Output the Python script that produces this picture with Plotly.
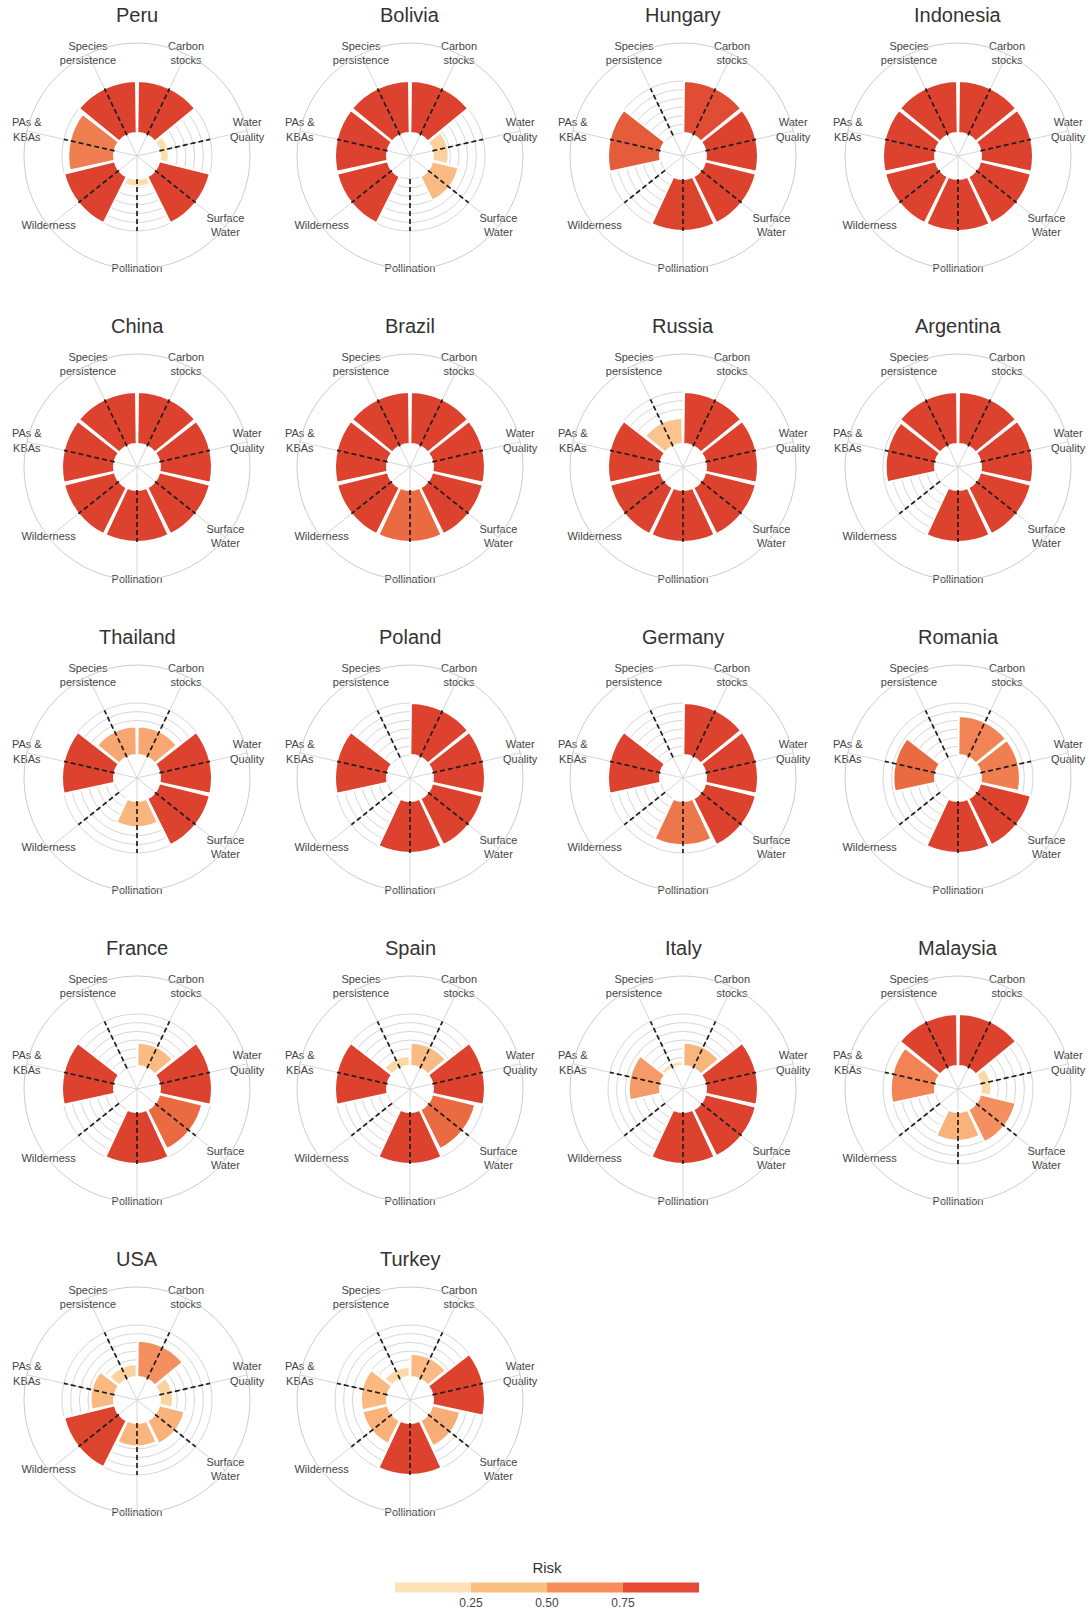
import plotly.graph_objects as go

CATEGORIES = ["Species persistence", "Carbon stocks", "Water Quality", "Surface Water",
              "Pollination", "Wilderness", "PAs & KBAs"]
LABELS = ["Species<br>persistence", "Carbon<br>stocks", "Water<br>Quality", "Surface<br>Water",
          "Pollination", "Wilderness", "PAs &<br>KBAs"]

# bar length (0-1) and risk (colour), one value per category above
peru_len = [1.0, 1.0, 0.17, 1.0, 0.15, 1.0, 0.88]
peru_risk = [0.9, 0.9, 0.1, 0.9, 0.1, 0.9, 0.62]
bolivia_len = [1.0, 1.0, 0.3, 0.52, 0.0, 1.0, 1.0]
bolivia_risk = [0.9, 0.9, 0.22, 0.35, 0.0, 0.9, 0.9]
hungary_len = [0.0, 1.0, 1.0, 1.0, 1.0, 0.0, 1.0]
hungary_risk = [0.0, 0.82, 0.9, 0.9, 0.88, 0.0, 0.76]
indonesia_len = [1.0, 1.0, 1.0, 1.0, 1.0, 1.0, 1.0]
indonesia_risk = [0.9, 0.9, 0.9, 0.9, 0.9, 0.9, 0.9]
china_len = [1.0, 1.0, 1.0, 1.0, 1.0, 1.0, 1.0]
china_risk = [0.9, 0.9, 0.9, 0.9, 0.9, 0.9, 0.9]
brazil_len = [1.0, 1.0, 1.0, 1.0, 1.0, 1.0, 1.0]
brazil_risk = [0.9, 0.9, 0.9, 0.9, 0.7, 0.9, 0.9]
russia_len = [0.5, 1.0, 1.0, 1.0, 1.0, 1.0, 1.0]
russia_risk = [0.3, 0.9, 0.9, 0.9, 0.9, 0.9, 0.9]
argentina_len = [1.0, 1.0, 1.0, 1.0, 1.0, 0.0, 0.95]
argentina_risk = [0.9, 0.9, 0.9, 0.9, 0.9, 0.0, 0.9]
thailand_len = [0.55, 0.55, 1.0, 1.0, 0.5, 0.0, 1.0]
thailand_risk = [0.45, 0.45, 0.9, 0.9, 0.38, 0.0, 0.9]
poland_len = [0.0, 1.0, 1.0, 1.0, 1.0, 0.0, 1.0]
poland_risk = [0.0, 0.9, 0.9, 0.9, 0.9, 0.0, 0.9]
germany_len = [0.0, 1.0, 1.0, 1.0, 0.85, 0.0, 1.0]
germany_risk = [0.0, 0.9, 0.9, 0.9, 0.65, 0.0, 0.9]
romania_len = [0.0, 0.75, 0.75, 1.0, 1.0, 0.0, 0.8]
romania_risk = [0.0, 0.6, 0.62, 0.9, 0.9, 0.0, 0.7]
france_len = [0.0, 0.45, 1.0, 0.85, 1.0, 0.0, 1.0]
france_risk = [0.0, 0.35, 0.9, 0.7, 0.9, 0.0, 0.9]
spain_len = [0.2, 0.45, 1.0, 0.85, 1.0, 0.0, 1.0]
spain_risk = [0.15, 0.35, 0.9, 0.7, 0.9, 0.0, 0.9]
italy_len = [0.1, 0.45, 1.0, 1.0, 1.0, 0.0, 0.6]
italy_risk = [0.1, 0.38, 0.9, 0.9, 0.9, 0.0, 0.5]
malaysia_len = [1.0, 1.0, 0.2, 0.7, 0.55, 0.0, 0.85]
malaysia_risk = [0.9, 0.9, 0.15, 0.55, 0.4, 0.0, 0.6]
usa_len = [0.25, 0.7, 0.25, 0.5, 0.45, 1.0, 0.45]
usa_risk = [0.2, 0.55, 0.2, 0.4, 0.38, 0.88, 0.36]
turkey_len = [0.2, 0.45, 1.0, 0.55, 1.0, 0.5, 0.5]
turkey_risk = [0.15, 0.35, 0.9, 0.42, 0.9, 0.4, 0.36]

COUNTRIES = [
    ("Peru", peru_len, peru_risk), ("Bolivia", bolivia_len, bolivia_risk),
    ("Hungary", hungary_len, hungary_risk), ("Indonesia", indonesia_len, indonesia_risk),
    ("China", china_len, china_risk), ("Brazil", brazil_len, brazil_risk),
    ("Russia", russia_len, russia_risk), ("Argentina", argentina_len, argentina_risk),
    ("Thailand", thailand_len, thailand_risk), ("Poland", poland_len, poland_risk),
    ("Germany", germany_len, germany_risk), ("Romania", romania_len, romania_risk),
    ("France", france_len, france_risk), ("Spain", spain_len, spain_risk),
    ("Italy", italy_len, italy_risk), ("Malaysia", malaysia_len, malaysia_risk),
    ("USA", usa_len, usa_risk), ("Turkey", turkey_len, turkey_risk),
]

BAR_SCALE = [[0.0, "#fee6bd"], [0.2, "#fcd39f"], [0.4, "#f9b27a"], [0.55, "#f4905f"],
             [0.7, "#ea6a42"], [0.85, "#de4630"], [1.0, "#d83a28"]]
RISK_STEPS = ["#fde2b6", "#fbbf80", "#f88d5b", "#e54a34"]
risk_scale = []
for k, c in enumerate(RISK_STEPS):
    risk_scale += [[k / 4, c], [(k + 1) / 4, c]]

W, H = 1089, 1611
COL_X = [137, 410, 683, 958]          # subplot centres, px
ROW_Y = [156, 467, 778, 1089, 1400]
R_PX = 113
HOLE = 0.44          # radial units of the empty centre
R_MAX = 2.17         # outer circle
GRID = [HOLE + k / 6 for k in range(7)]
FONT = "Liberation Sans, Arial, sans-serif"


def px(x):
    return x / W


def py(y):
    return 1 - y / H


fig = go.Figure()
annotations = []
for i, (name, lens, risk) in enumerate(COUNTRIES):
    pid = "polar" if i == 0 else f"polar{i + 1}"
    cx, cy = COL_X[i % 4], ROW_Y[i // 4]

    fig.add_trace(go.Barpolar(
        r=lens, theta=CATEGORIES, base=HOLE, width=0.97,
        marker=dict(color=risk, colorscale=BAR_SCALE, cmin=0, cmax=1,
                    line=dict(color="white", width=2)),
        subplot=pid, showlegend=False, hoverinfo="theta+r"))

    # dashed reference spokes from the hole to the maximum
    rr, tt = [], []
    for c in CATEGORIES:
        rr += [HOLE, HOLE + 1, None]
        tt += [c, c, None]
    fig.add_trace(go.Scatterpolar(
        r=rr, theta=tt, mode="lines", subplot=pid, showlegend=False, hoverinfo="skip",
        line=dict(color="#1e1e1e", width=1.7, dash="5px,3px")))

    fig.add_trace(go.Scatterpolar(
        r=[R_MAX] * len(CATEGORIES), theta=CATEGORIES, text=LABELS,
        mode="text", textposition="middle center",
        textfont=dict(size=11, color="#444444", family=FONT),
        cliponaxis=False, subplot=pid, showlegend=False, hoverinfo="skip"))

    fig.layout[pid] = dict(
        domain=dict(x=[px(cx - R_PX), px(cx + R_PX)], y=[py(cy + R_PX), py(cy - R_PX)]),
        bgcolor="white",
        radialaxis=dict(range=[0, R_MAX], tickvals=GRID, showticklabels=False, ticks="",
                        showline=False, gridcolor="#d6d6d6", gridwidth=1),
        angularaxis=dict(direction="clockwise", rotation=90 + 180 / len(CATEGORIES),
                         categoryarray=CATEGORIES, showticklabels=False, ticks="",
                         showline=True, linecolor="#cccccc", linewidth=1,
                         gridcolor="#d6d6d6", gridwidth=1),
    )
    annotations.append(dict(text=name, x=px(cx), y=py(cy - 141), xref="paper", yref="paper",
                            showarrow=False, xanchor="center", yanchor="middle",
                            font=dict(size=20, color="#333333", family=FONT)))

# colour key
fig.add_trace(go.Scatterpolar(
    r=[0], theta=[CATEGORIES[0]], mode="markers", subplot="polar", showlegend=False,
    hoverinfo="skip",
    marker=dict(size=1, opacity=0, color=[0], colorscale=risk_scale, cmin=0, cmax=1, showscale=True,
                colorbar=dict(orientation="h", x=px(547), xanchor="center", y=py(1586),
                              yanchor="middle", len=304 / W, lenmode="fraction", thickness=10,
                              outlinewidth=0, ticks="", tickvals=[0.25, 0.5, 0.75],
                              ticktext=["0.25", "0.50", "0.75"], ypad=0, xpad=0,
                              tickfont=dict(size=12, color="#444444", family=FONT),
                              title=dict(text="Risk", side="top",
                                         font=dict(size=15, color="#333333", family=FONT))))))

fig.update_layout(width=W, height=H, margin=dict(l=0, r=0, t=0, b=0, autoexpand=False),
                  paper_bgcolor="white", annotations=annotations, font=dict(family=FONT))
# drop the default page margin so the figure sits at the window's corner
fig.write_html("out.html", config={"displayModeBar": False},
               post_script="document.body.style.margin='0';")
